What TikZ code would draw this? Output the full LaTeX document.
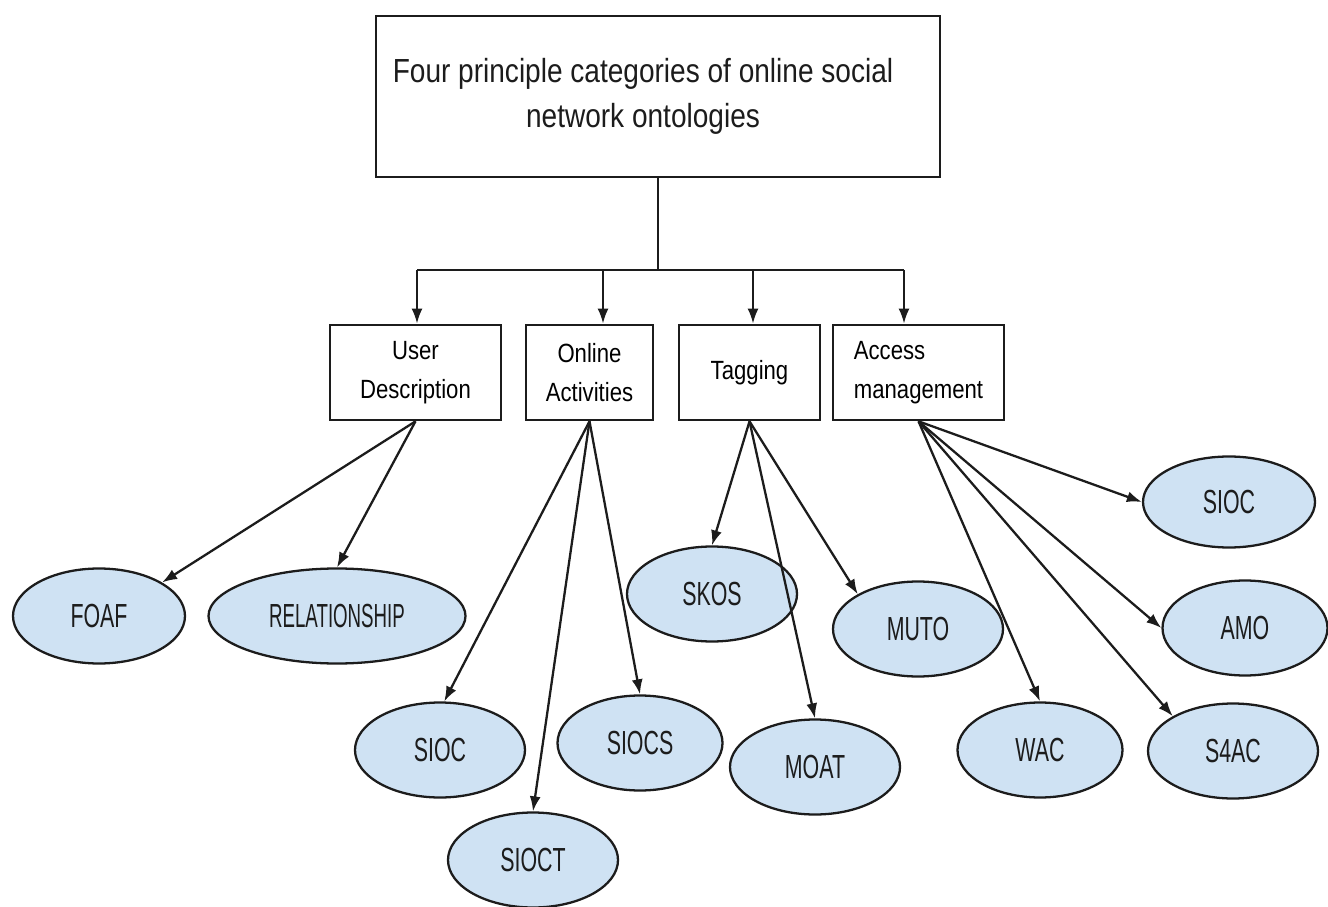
\documentclass[tikz,border=0pt]{standalone}
\usepackage{fontspec}
\setmainfont{Liberation Sans}
\newfontfamily\boxfont[FakeStretch=0.84]{Liberation Sans}
\newfontfamily\ovalfont[FakeStretch=0.64]{Liberation Sans}
\newfontfamily\relfont[FakeStretch=0.56]{Liberation Sans}
\usetikzlibrary{arrows.meta,shapes.geometric}
\definecolor{ovalblue}{RGB}{207,226,243}
\definecolor{inkgray}{RGB}{28,28,28}

\begin{document}
\begin{tikzpicture}[
    cat/.style={draw=inkgray, line width=1.5pt,
      minimum height=1.9cm, inner sep=2pt, align=center,
      font=\boxfont\fontsize{15}{22}\selectfont
    },
    oval/.style={ellipse, draw=inkgray, line width=1.3pt, fill=ovalblue,
      minimum width=3.4cm, minimum height=1.9cm, inner sep=0pt,
      text=inkgray, font=\ovalfont\fontsize{19}{22}\selectfont
    },
    arr/.style={-{Latex[length=3mm,width=2.2mm]}, line width=1.3pt, draw=inkgray},
  ]
  \useasboundingbox (0,0) rectangle (26.56,18.12);

  % heading and the four categories
  \node[draw=inkgray, line width=1.5pt, minimum width=11.28cm, minimum height=3.22cm]
    (top) at (13.16,16.19) {};
  \node[align=center, font=\boxfont\fontsize{19}{26}\selectfont, text=inkgray]
    (title) at ([xshift=-0.3cm]top.center)
    {Four principle categories of online social\\network ontologies};

  \node[cat, minimum width=3.42cm] (user) at (8.31,10.67) {User\\Description};
  \node[cat, minimum width=2.54cm] (online) at (11.79,10.67) {Online\\Activities};
  \node[cat, minimum width=2.82cm] (tag) at (14.99,10.67) {Tagging};
  \node[cat, minimum width=3.42cm, align=left] (access) at (18.37,10.67) {Access\\management};

  \coordinate (bus1) at (8.34,12.72);
  \coordinate (bus2) at (12.06,12.72);
  \coordinate (bus3) at (15.06,12.72);
  \coordinate (bus4) at (18.08,12.72);
  \draw[line width=1.3pt, draw=inkgray] (top.south) -- (top.south |- bus1);
  \draw[line width=1.3pt, draw=inkgray] (bus1) -- (bus4);
  \draw[arr] (bus1) -- (bus1 |- user.north);
  \draw[arr] (bus2) -- (bus2 |- online.north);
  \draw[arr] (bus3) -- (bus3 |- tag.north);
  \draw[arr] (bus4) -- (bus4 |- access.north);

  % ontologies
  \node[oval, minimum width=3.44cm] (foaf) at (1.98,5.80) {FOAF};
  \node[oval, minimum width=5.14cm, font=\relfont\fontsize{19}{22}\selectfont]
    (relation) at (6.74,5.80) {RELATIONSHIP};
  \node[oval] (sioca) at (8.80,3.12) {SIOC};
  \node[oval] (sioct) at (10.66,0.92) {SIOCT};
  \node[oval, minimum width=3.3cm] (siocs) at (12.80,3.26) {SIOCS};
  \node[oval] (skos) at (14.24,6.24) {SKOS};
  \node[oval] (moat) at (16.30,2.78) {MOAT};
  \node[oval] (muto) at (18.36,5.54) {MUTO};
  \node[oval, minimum width=3.3cm] (wac) at (20.80,3.12) {WAC};
  \node[oval] (s4ac) at (24.66,3.10) {S4AC};
  \node[oval, minimum width=3.3cm] (amo) at (24.90,5.56) {AMO};
  \node[oval, minimum width=3.44cm, minimum height=1.82cm] (siocb) at (24.58,8.08) {SIOC};

  \draw[arr] (user.south) -- (foaf.28);
  \draw[arr] (user.south) -- (relation.north);
  \draw[arr] (online.south) -- (sioca.85);
  \draw[arr] (online.south) -- (sioct.north);
  \draw[arr] (online.south) -- (siocs.north);
  \draw[arr] (tag.south) -- (skos.north);
  \draw[arr] (tag.south) -- (moat.north);
  \draw[arr] (tag.south) -- (muto.150);
  \draw[arr] (access.south) -- (siocb.west);
  \draw[arr] (access.south) -- (amo.west);
  \draw[arr] (access.south) -- (s4ac.150);
  \draw[arr] (access.south) -- (wac.north);
\end{tikzpicture}
\end{document}
